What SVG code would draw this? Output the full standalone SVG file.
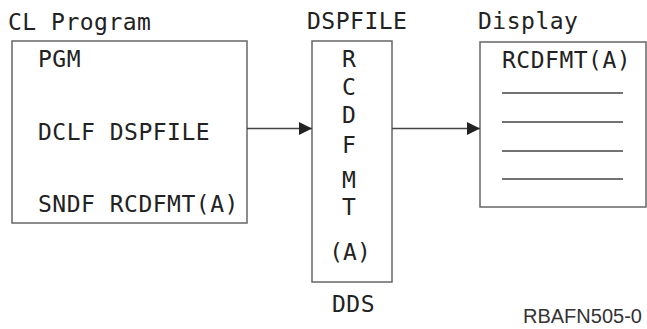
<svg xmlns="http://www.w3.org/2000/svg" width="647" height="329" viewBox="0 0 647 329">
<style>
.t{font-family:"DejaVu Sans Mono","Liberation Mono",monospace;font-size:23px;letter-spacing:0.5px;fill:#222}
.v{font-family:"DejaVu Sans Mono","Liberation Mono",monospace;font-size:23px;fill:#222;text-anchor:middle}
.box{fill:#fff;stroke:#666;stroke-width:1.5}
.ln{stroke:#444;stroke-width:1.3;fill:none}
.id{font-family:"Liberation Sans",Arial,sans-serif;font-size:20px;fill:#333}
</style>
<defs>
<marker id="ah" markerUnits="userSpaceOnUse" markerWidth="13" markerHeight="13" refX="13" refY="6.5" orient="auto">
<path d="M0,0 L13,6.5 L0,13 Z" fill="#222"/>
</marker>
</defs>
<rect width="647" height="329" fill="#fff"/>
<g id="cl-program">
<text class="t" x="8" y="30">CL Program</text>
<rect class="box" x="12" y="41" width="235" height="182"/>
<text class="t" x="38" y="67">PGM</text>
<text class="t" x="38" y="140">DCLF DSPFILE</text>
<text class="t" x="38" y="212">SNDF RCDFMT(A)</text>
</g>
<g id="dspfile">
<text class="t" x="307" y="29">DSPFILE</text>
<rect class="box" x="312" y="41" width="80" height="241"/>
<text class="v" x="349" y="67">R</text>
<text class="v" x="349" y="95">C</text>
<text class="v" x="349" y="123">D</text>
<text class="v" x="349" y="153">F</text>
<text class="v" x="349" y="188">M</text>
<text class="v" x="349" y="215">T</text>
<text class="v" x="350" y="260">(A)</text>
<text class="t" x="332" y="312">DDS</text>
</g>
<g id="display">
<text class="t" x="478" y="29">Display</text>
<rect class="box" x="480" y="42" width="166" height="165"/>
<text class="t" x="502" y="68">RCDFMT(A)</text>
<path class="ln" d="M502,93H623M502,122H623M502,151H623M502,179H623"/>
</g>
<g id="connectors">
<line class="ln" x1="247" y1="128.5" x2="312" y2="128.5" marker-end="url(#ah)"/>
<line class="ln" x1="392" y1="128.5" x2="480" y2="128.5" marker-end="url(#ah)"/>
</g>
<text class="id" x="523" y="323">RBAFN505-0</text>
</svg>
